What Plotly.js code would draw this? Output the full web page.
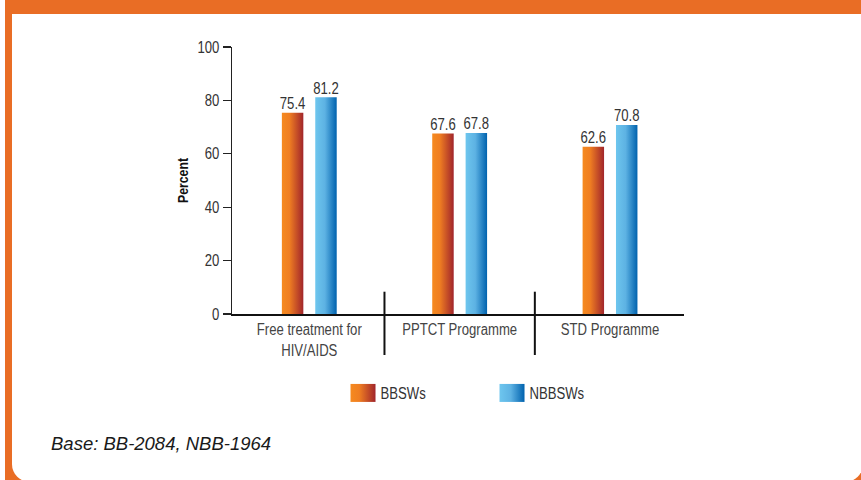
<!DOCTYPE html>
<html>
<head>
<meta charset="utf-8">
<script src="https://cdn.plot.ly/plotly-3.0.1.min.js"></script>
<style>
  html, body { margin: 0; padding: 0; background: #ffffff; }
  #wrap { position: relative; width: 861px; height: 480px; overflow: hidden; background: #ffffff; }
  #frame { position: absolute; left: 5px; top: 0; width: 870px; height: 490px; background: #E96D25; }
  #inner { position: absolute; left: 12px; top: 14px; width: 851px; height: 468px; background: #ffffff; border-radius: 0 0 18px 18px; }
  #chart { position: absolute; left: 0; top: 0; width: 861px; height: 480px; }
</style>
</head>
<body>
<div id="wrap">
  <div id="frame"></div>
  <div id="inner"></div>
  <div id="chart"></div>
</div>
<script>
// ---- data ----
const categories = ['Free treatment for<br>HIV/AIDS', 'PPTCT Programme', 'STD Programme'];
const seriesNames = ['BBSWs', 'NBBSWs'];
const bbswsValues = [75.4, 67.6, 62.6];
const nbbswsValues = [81.2, 67.8, 70.8];
const yTickValues = [0, 20, 40, 60, 80, 100];
const yAxisLabel = 'Percent';
const baseNote = 'Base: BB-2084, NBB-1964';

// Liberation Sans compressed horizontally to 82% reproduces a "narrow" face.
const sans = 'Liberation Sans, Arial, sans-serif';
const NARROW = 0.82;
const textColor = '#333333';

const traces = [
  {
    type: 'bar', name: seriesNames[0], x: categories, y: bbswsValues,
    marker: { color: '#EE7D22', line: { width: 0 } },
    text: bbswsValues.map(v => v.toFixed(1)), textposition: 'outside', constraintext: 'none',
    textfont: { family: sans, size: 16, color: textColor },
    cliponaxis: false, hoverinfo: 'skip'
  },
  {
    type: 'bar', name: seriesNames[1], x: categories, y: nbbswsValues,
    marker: { color: '#3A9AD8', line: { width: 0 } },
    text: nbbswsValues.map(v => v.toFixed(1)), textposition: 'outside', constraintext: 'none',
    textfont: { family: sans, size: 16, color: textColor },
    cliponaxis: false, hoverinfo: 'skip'
  }
];

const layout = {
  width: 861, height: 480,
  margin: { l: 232, r: 177, t: 47, b: 166, pad: 0 },
  paper_bgcolor: 'rgba(0,0,0,0)', plot_bgcolor: 'rgba(0,0,0,0)',
  barmode: 'group', bargap: 0.556, bargroupgap: 0.357,
  showlegend: true,
  legend: {
    orientation: 'h', x: 0.2456, xanchor: 'left', y: -0.296, yanchor: 'middle',
    font: { family: sans, size: 16, color: textColor },
    entrywidth: 104, entrywidthmode: 'pixels', itemclick: false, bgcolor: 'rgba(0,0,0,0)'
  },
  xaxis: {
    type: 'category', range: [-0.514, 2.492], fixedrange: true,
    showline: true, linecolor: '#111111', linewidth: 2, ticks: '', showgrid: false, zeroline: false,
    tickfont: { family: sans, size: 16, color: '#444444' }
  },
  yaxis: {
    range: [0, 100], fixedrange: true, tickvals: yTickValues,
    showline: true, linecolor: '#222222', linewidth: 1.5, ticks: 'outside', ticklen: 8,
    tickwidth: 1.2, tickcolor: '#222222', showgrid: false, zeroline: false,
    tickfont: { family: sans, size: 16, color: textColor }
  },
  shapes: [0.5, 1.5].map(xv => ({
    type: 'line', xref: 'x', yref: 'paper', x0: xv, x1: xv, y0: -0.1536, y1: 0.0835,
    line: { color: '#111111', width: 2 }
  })),
  annotations: [
    {
      text: '<b>' + yAxisLabel + '</b>', xref: 'paper', yref: 'paper', x: -0.1095, y: 0.5, textangle: -90,
      showarrow: false, xanchor: 'center', yanchor: 'middle',
      font: { family: sans, size: 15, color: '#111111' }
    },
    {
      text: '<i>' + baseNote + '</i>', xref: 'paper', yref: 'paper', x: -0.4049, y: -0.4854,
      showarrow: false, xanchor: 'left', yanchor: 'middle',
      font: { family: sans, size: 18.5, color: '#1a1a1a' }
    }
  ]
};

function compress(el) {
  const lines = el.querySelectorAll('tspan.line');
  const targets = lines.length ? Array.from(lines) : [el];
  targets.forEach(t => {
    const len = t.getComputedTextLength();
    if (len > 0) {
      t.setAttribute('textLength', (len * NARROW).toFixed(2));
      t.setAttribute('lengthAdjust', 'spacingAndGlyphs');
    }
  });
}

Plotly.newPlot('chart', traces, layout, { displayModeBar: false, staticPlot: true }).then(function (gd) {
  const svg = gd.querySelector('svg.main-svg');
  const NS = 'http://www.w3.org/2000/svg';
  let defs = svg.querySelector('defs');
  if (!defs) { defs = document.createElementNS(NS, 'defs'); svg.insertBefore(defs, svg.firstChild); }
  function grad(id, stops) {
    const g = document.createElementNS(NS, 'linearGradient');
    g.setAttribute('id', id);
    g.setAttribute('x1', '0'); g.setAttribute('y1', '0'); g.setAttribute('x2', '1'); g.setAttribute('y2', '0');
    stops.forEach(s => {
      const st = document.createElementNS(NS, 'stop');
      st.setAttribute('offset', s[0]); st.setAttribute('stop-color', s[1]);
      g.appendChild(st);
    });
    defs.appendChild(g);
  }
  grad('gradOrange', [['0', '#F68A1F'], ['0.35', '#EF7E22'], ['1', '#A1252B']]);
  grad('gradBlue', [['0', '#6EC6EE'], ['0.45', '#5DB2E3'], ['1', '#0062AE']]);
  const fills = ['url(#gradOrange)', 'url(#gradBlue)'];
  gd.querySelectorAll('.barlayer .trace').forEach((t, i) => {
    t.querySelectorAll('.point path').forEach(p => { p.style.fill = fills[i]; });
  });
  gd.querySelectorAll('.legend .traces').forEach((t, i) => {
    t.querySelectorAll('.legendpoints path').forEach(p => {
      p.setAttribute('d', 'M12.5,9H-12.5V-9H12.5Z');
      p.style.fill = fills[i];
      p.style.stroke = 'none';
    });
  });
  gd.querySelectorAll('.xtick text, .ytick text, .bartext, .legendtext').forEach(compress);
  // value labels sit a little closer to the bar tops
  gd.querySelectorAll('.bartext').forEach(el => {
    el.setAttribute('transform', (el.getAttribute('transform') || '') + ' translate(0,2.5)');
  });
  // legend text a touch closer to swatch
  gd.querySelectorAll('.legendtext').forEach(el => {
    el.setAttribute('x', '37.5');
    el.querySelectorAll('tspan.line').forEach(ts => ts.setAttribute('x', '37.5'));
  });
  const ann = gd.querySelectorAll('.annotation-text');
  if (ann.length) compress(ann[0]);
});
</script>
</body>
</html>
